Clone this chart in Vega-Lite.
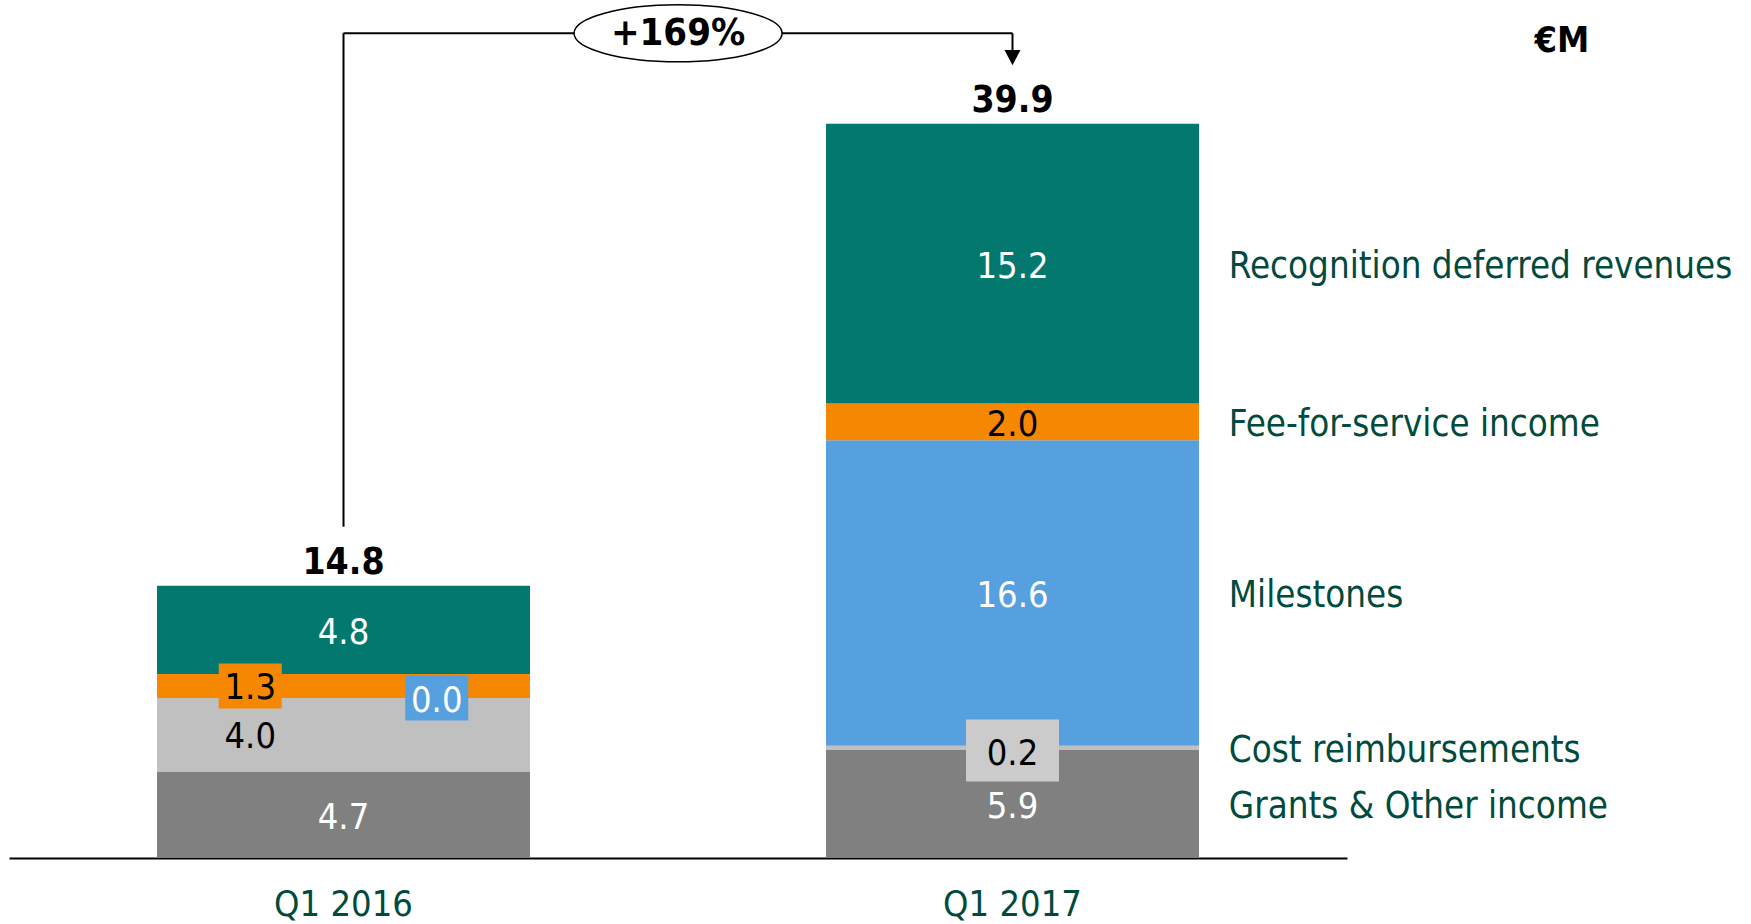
{
  "$schema": "https://vega.github.io/schema/vega-lite/v6.json",
  "width": 1751,
  "height": 858,
  "autosize": {"type": "none"},
  "padding": {"left": 0, "top": 0, "right": 0, "bottom": 66},
  "background": "white",
  "config": {
    "view": {"stroke": null},
    "font": "DejaVu Sans Condensed, DejaVu Sans",
    "axis": {"labelFont": "DejaVu Sans Condensed, DejaVu Sans"}
  },
  "data": {
    "values": [
      {"cat": "Q1 2016", "series": "Grants & Other income", "rank": 1, "value": 4.7},
      {"cat": "Q1 2016", "series": "Cost reimbursements", "rank": 2, "value": 4.0},
      {"cat": "Q1 2016", "series": "Milestones", "rank": 3, "value": 0.0},
      {"cat": "Q1 2016", "series": "Fee-for-service income", "rank": 4, "value": 1.3},
      {"cat": "Q1 2016", "series": "Recognition deferred revenues", "rank": 5, "value": 4.8},
      {"cat": "Q1 2017", "series": "Grants & Other income", "rank": 1, "value": 5.9},
      {"cat": "Q1 2017", "series": "Cost reimbursements", "rank": 2, "value": 0.2},
      {"cat": "Q1 2017", "series": "Milestones", "rank": 3, "value": 16.6},
      {"cat": "Q1 2017", "series": "Fee-for-service income", "rank": 4, "value": 2.0},
      {"cat": "Q1 2017", "series": "Recognition deferred revenues", "rank": 5, "value": 15.2}
    ]
  },
  "transform": [
    {"stack": "value", "groupby": ["cat"], "sort": [{"field": "rank", "order": "ascending"}], "as": ["v0", "v1"]},
    {"calculate": "(datum.v0 + datum.v1) / 2", "as": "mid"}
  ],
  "layer": [
    {
      "mark": {"type": "bar"},
      "encoding": {
        "x": {
          "field": "cat", "type": "nominal", "title": null,
          "scale": {"domain": ["Q1 2016", "Q1 2017"], "range": [9, 1347], "paddingInner": 0.4425, "paddingOuter": 0.22125},
          "axis": {"labelAngle": 0, "ticks": false, "domainColor": "black", "domainWidth": 2, "labelFontSize": 36, "labelColor": "#004b3d", "labelPadding": 29, "grid": false}
        },
        "y": {"field": "v0", "type": "quantitative", "scale": {"domain": [0, 46.63], "nice": false, "zero": true}, "axis": null},
        "y2": {"field": "v1"},
        "color": {
          "field": "series", "type": "nominal", "legend": null,
          "scale": {
            "domain": ["Grants & Other income", "Cost reimbursements", "Milestones", "Fee-for-service income", "Recognition deferred revenues"],
            "range": ["#808080", "#c0c0c0", "#56a0e0", "#f58800", "#03786f"]
          }
        }
      }
    },
    {
      "transform": [{"filter": "datum.cat == 'Q1 2016' && datum.series == 'Fee-for-service income'"}],
      "mark": {"type": "point", "filled": true, "opacity": 1, "fill": "#f58800", "strokeWidth": 0, "shape": "M-1,-0.714L1,-0.714L1,0.714L-1,0.714Z", "size": 3969},
      "encoding": {
        "x": {"field": "cat", "type": "nominal", "bandPosition": 0.25},
        "y": {"field": "mid", "type": "quantitative"}
      }
    },
    {
      "transform": [{"filter": "datum.cat == 'Q1 2016' && datum.series == 'Milestones'"}],
      "mark": {"type": "point", "filled": true, "opacity": 1, "fill": "#56a0e0", "strokeWidth": 0, "shape": "M-1,-0.714L1,-0.714L1,0.714L-1,0.714Z", "size": 3969},
      "encoding": {
        "x": {"field": "cat", "type": "nominal", "bandPosition": 0.75},
        "y": {"field": "mid", "type": "quantitative"}
      }
    },
    {
      "transform": [{"filter": "datum.cat == 'Q1 2017' && datum.series == 'Cost reimbursements'"}],
      "mark": {"type": "point", "filled": true, "opacity": 1, "fill": "#cbcbcb", "strokeWidth": 0, "shape": "M-1,-0.667L1,-0.667L1,0.667L-1,0.667Z", "size": 8649, "yOffset": 3},
      "encoding": {
        "x": {"field": "cat", "type": "nominal"},
        "y": {"field": "mid", "type": "quantitative"}
      }
    },
    {
      "transform": [{"filter": "!(datum.cat == 'Q1 2016' && (datum.series == 'Fee-for-service income' || datum.series == 'Cost reimbursements' || datum.series == 'Milestones')) && !(datum.cat == 'Q1 2017' && datum.series == 'Cost reimbursements')"}],
      "mark": {"type": "text", "fontSize": 36, "baseline": "middle", "align": "center", "dy": 3},
      "encoding": {
        "x": {"field": "cat", "type": "nominal"},
        "y": {"field": "mid", "type": "quantitative"},
        "text": {"field": "value", "type": "quantitative", "format": ".1f"},
        "color": {"condition": {"test": "datum.series == 'Fee-for-service income' || datum.series == 'Cost reimbursements'", "value": "black"}, "value": "white"}
      }
    },
    {
      "transform": [{"filter": "datum.cat == 'Q1 2017' && datum.series == 'Cost reimbursements'"}],
      "mark": {"type": "text", "fontSize": 36, "baseline": "middle", "align": "center", "dy": 6, "color": "black"},
      "encoding": {
        "x": {"field": "cat", "type": "nominal"},
        "y": {"field": "mid", "type": "quantitative"},
        "text": {"field": "value", "type": "quantitative", "format": ".1f"}
      }
    },
    {
      "transform": [{"filter": "datum.cat == 'Q1 2016' && (datum.series == 'Fee-for-service income' || datum.series == 'Cost reimbursements')"}],
      "mark": {"type": "text", "fontSize": 36, "baseline": "middle", "align": "center", "dy": 2, "color": "black"},
      "encoding": {
        "x": {"field": "cat", "type": "nominal", "bandPosition": 0.25},
        "y": {"field": "mid", "type": "quantitative"},
        "text": {"field": "value", "type": "quantitative", "format": ".1f"}
      }
    },
    {
      "transform": [{"filter": "datum.cat == 'Q1 2016' && datum.series == 'Milestones'"}],
      "mark": {"type": "text", "fontSize": 36, "baseline": "middle", "align": "center", "dy": 3, "color": "white"},
      "encoding": {
        "x": {"field": "cat", "type": "nominal", "bandPosition": 0.75},
        "y": {"field": "mid", "type": "quantitative"},
        "text": {"field": "value", "type": "quantitative", "format": ".1f"}
      }
    },
    {
      "transform": [{"filter": "datum.rank == 5"}],
      "mark": {"type": "text", "fontSize": 37, "fontWeight": "bold", "baseline": "alphabetic", "align": "center", "dy": -12, "color": "black"},
      "encoding": {
        "x": {"field": "cat", "type": "nominal"},
        "y": {"field": "v1", "type": "quantitative"},
        "text": {"field": "v1", "type": "quantitative", "format": ".1f"}
      }
    },
    {
      "transform": [{"filter": "datum.cat == 'Q1 2017'"}],
      "mark": {"type": "text", "fontSize": 36.4, "baseline": "middle", "align": "left", "dy": 3, "color": "#004b3d"},
      "encoding": {
        "x": {"field": "cat", "type": "nominal", "bandPosition": 1.08},
        "y": {"field": "mid", "type": "quantitative"},
        "text": {"field": "series", "type": "nominal"}
      }
    },
    {
      "transform": [{"filter": "datum.cat == 'Q1 2016' && datum.rank == 5"}],
      "mark": {"type": "rule", "color": "black", "strokeWidth": 2},
      "encoding": {
        "x": {"datum": "Q1 2016", "type": "nominal"},
        "y": {"datum": 18.0, "type": "quantitative"},
        "y2": {"datum": 44.82}
      }
    },
    {
      "transform": [{"filter": "datum.cat == 'Q1 2016' && datum.rank == 5"}],
      "mark": {"type": "rule", "color": "black", "strokeWidth": 2},
      "encoding": {
        "x": {"datum": "Q1 2016", "type": "nominal"},
        "x2": {"datum": "Q1 2017"},
        "y": {"datum": 44.82, "type": "quantitative"}
      }
    },
    {
      "transform": [{"filter": "datum.cat == 'Q1 2016' && datum.rank == 5"}],
      "mark": {"type": "rule", "color": "black", "strokeWidth": 2},
      "encoding": {
        "x": {"datum": "Q1 2017", "type": "nominal"},
        "y": {"datum": 44.82, "type": "quantitative"},
        "y2": {"datum": 43.6}
      }
    },
    {
      "transform": [{"filter": "datum.cat == 'Q1 2016' && datum.rank == 5"}],
      "mark": {"type": "point", "filled": true, "opacity": 1, "fill": "black", "strokeWidth": 0, "shape": "M-1,-0.95L1,-0.95L0,0.95Z", "size": 256},
      "encoding": {
        "x": {"datum": "Q1 2017", "type": "nominal"},
        "y": {"datum": 43.5, "type": "quantitative"}
      }
    },
    {
      "transform": [{"filter": "datum.cat == 'Q1 2016' && datum.rank == 5"}],
      "mark": {"type": "point", "filled": false, "opacity": 1, "fill": "white", "fillOpacity": 1, "stroke": "black", "strokeWidth": 1.5, "shape": "M-1,0C-1,-0.151,-0.552,-0.274,0,-0.274C0.552,-0.274,1,-0.151,1,0C1,0.151,0.552,0.274,0,0.274C-0.552,0.274,-1,0.151,-1,0Z", "size": 43264},
      "encoding": {
        "x": {"datum": "Q1 2016", "type": "nominal", "bandPosition": 1.397},
        "y": {"datum": 44.82, "type": "quantitative"}
      }
    },
    {
      "transform": [{"filter": "datum.cat == 'Q1 2016' && datum.rank == 5"}],
      "mark": {"type": "text", "fontSize": 38, "fontWeight": "bold", "baseline": "middle", "align": "center", "dy": 1, "color": "black"},
      "encoding": {
        "x": {"datum": "Q1 2016", "type": "nominal", "bandPosition": 1.397},
        "y": {"datum": 44.82, "type": "quantitative"},
        "text": {"value": "+169%"}
      }
    },
    {
      "transform": [{"filter": "datum.cat == 'Q1 2016' && datum.rank == 5"}],
      "mark": {"type": "text", "fontSize": 36, "fontWeight": "bold", "baseline": "alphabetic", "align": "center", "color": "black"},
      "encoding": {
        "x": {"datum": "Q1 2017", "type": "nominal", "bandPosition": 1.973},
        "y": {"datum": 43.8, "type": "quantitative"},
        "text": {"value": "€M"}
      }
    }
  ]
}
